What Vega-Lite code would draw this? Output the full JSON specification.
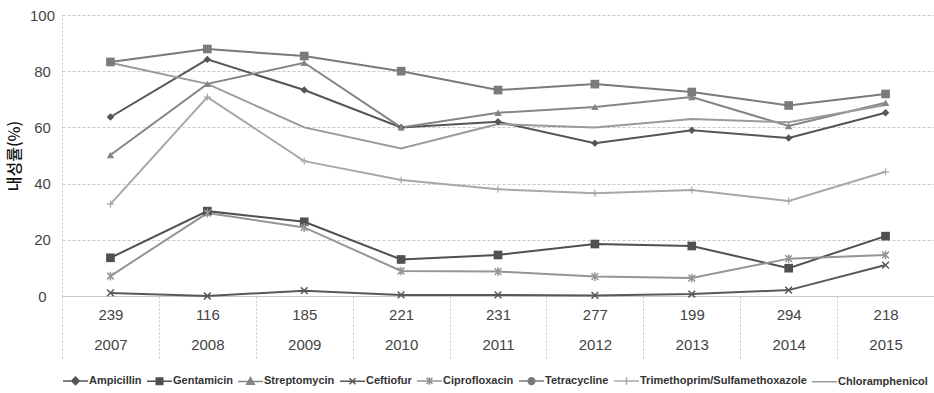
{
  "$schema": "https://vega.github.io/schema/vega-lite/v6.json",
  "autosize": {"type": "none"},
  "width": 872,
  "height": 281,
  "padding": {"left": 62, "top": 15, "right": 0, "bottom": 97},
  "background": "white",
  "config": {
    "view": {"stroke": null},
    "axis": {"labelFont": "Liberation Sans", "labelColor": "#444", "titleFont": "Noto Sans CJK KR"}
  },
  "data": {
    "values": [
      {"year": "2007", "drug": "Ampicillin", "value": 63.7},
      {"year": "2008", "drug": "Ampicillin", "value": 84.2},
      {"year": "2009", "drug": "Ampicillin", "value": 73.3},
      {"year": "2010", "drug": "Ampicillin", "value": 60.0},
      {"year": "2011", "drug": "Ampicillin", "value": 62.0},
      {"year": "2012", "drug": "Ampicillin", "value": 54.4},
      {"year": "2013", "drug": "Ampicillin", "value": 59.0},
      {"year": "2014", "drug": "Ampicillin", "value": 56.2},
      {"year": "2015", "drug": "Ampicillin", "value": 65.2},
      {"year": "2007", "drug": "Gentamicin", "value": 13.6},
      {"year": "2008", "drug": "Gentamicin", "value": 30.2},
      {"year": "2009", "drug": "Gentamicin", "value": 26.4},
      {"year": "2010", "drug": "Gentamicin", "value": 13.0},
      {"year": "2011", "drug": "Gentamicin", "value": 14.6},
      {"year": "2012", "drug": "Gentamicin", "value": 18.5},
      {"year": "2013", "drug": "Gentamicin", "value": 17.8},
      {"year": "2014", "drug": "Gentamicin", "value": 9.9},
      {"year": "2015", "drug": "Gentamicin", "value": 21.3},
      {"year": "2007", "drug": "Streptomycin", "value": 50.2},
      {"year": "2008", "drug": "Streptomycin", "value": 75.5},
      {"year": "2009", "drug": "Streptomycin", "value": 83.0},
      {"year": "2010", "drug": "Streptomycin", "value": 60.0},
      {"year": "2011", "drug": "Streptomycin", "value": 65.2},
      {"year": "2012", "drug": "Streptomycin", "value": 67.3},
      {"year": "2013", "drug": "Streptomycin", "value": 70.8},
      {"year": "2014", "drug": "Streptomycin", "value": 60.5},
      {"year": "2015", "drug": "Streptomycin", "value": 68.8},
      {"year": "2007", "drug": "Ceftiofur", "value": 1.1},
      {"year": "2008", "drug": "Ceftiofur", "value": 0.0},
      {"year": "2009", "drug": "Ceftiofur", "value": 1.9},
      {"year": "2010", "drug": "Ceftiofur", "value": 0.4},
      {"year": "2011", "drug": "Ceftiofur", "value": 0.4},
      {"year": "2012", "drug": "Ceftiofur", "value": 0.2},
      {"year": "2013", "drug": "Ceftiofur", "value": 0.7},
      {"year": "2014", "drug": "Ceftiofur", "value": 2.1},
      {"year": "2015", "drug": "Ceftiofur", "value": 11.0},
      {"year": "2007", "drug": "Ciprofloxacin", "value": 7.1},
      {"year": "2008", "drug": "Ciprofloxacin", "value": 29.5},
      {"year": "2009", "drug": "Ciprofloxacin", "value": 24.4},
      {"year": "2010", "drug": "Ciprofloxacin", "value": 8.9},
      {"year": "2011", "drug": "Ciprofloxacin", "value": 8.7},
      {"year": "2012", "drug": "Ciprofloxacin", "value": 6.9},
      {"year": "2013", "drug": "Ciprofloxacin", "value": 6.4},
      {"year": "2014", "drug": "Ciprofloxacin", "value": 13.3},
      {"year": "2015", "drug": "Ciprofloxacin", "value": 14.6},
      {"year": "2007", "drug": "Tetracycline", "value": 83.3},
      {"year": "2008", "drug": "Tetracycline", "value": 87.9},
      {"year": "2009", "drug": "Tetracycline", "value": 85.4},
      {"year": "2010", "drug": "Tetracycline", "value": 80.0},
      {"year": "2011", "drug": "Tetracycline", "value": 73.3},
      {"year": "2012", "drug": "Tetracycline", "value": 75.4},
      {"year": "2013", "drug": "Tetracycline", "value": 72.6},
      {"year": "2014", "drug": "Tetracycline", "value": 67.8},
      {"year": "2015", "drug": "Tetracycline", "value": 71.9},
      {"year": "2007", "drug": "Trimethoprim/Sulfamethoxazole", "value": 32.7},
      {"year": "2008", "drug": "Trimethoprim/Sulfamethoxazole", "value": 70.8},
      {"year": "2009", "drug": "Trimethoprim/Sulfamethoxazole", "value": 48.0},
      {"year": "2010", "drug": "Trimethoprim/Sulfamethoxazole", "value": 41.3},
      {"year": "2011", "drug": "Trimethoprim/Sulfamethoxazole", "value": 38.0},
      {"year": "2012", "drug": "Trimethoprim/Sulfamethoxazole", "value": 36.6},
      {"year": "2013", "drug": "Trimethoprim/Sulfamethoxazole", "value": 37.7},
      {"year": "2014", "drug": "Trimethoprim/Sulfamethoxazole", "value": 33.8},
      {"year": "2015", "drug": "Trimethoprim/Sulfamethoxazole", "value": 44.2},
      {"year": "2007", "drug": "Chloramphenicol", "value": 83.0},
      {"year": "2008", "drug": "Chloramphenicol", "value": 75.5},
      {"year": "2009", "drug": "Chloramphenicol", "value": 60.0},
      {"year": "2010", "drug": "Chloramphenicol", "value": 52.5},
      {"year": "2011", "drug": "Chloramphenicol", "value": 61.2},
      {"year": "2012", "drug": "Chloramphenicol", "value": 60.0},
      {"year": "2013", "drug": "Chloramphenicol", "value": 63.0},
      {"year": "2014", "drug": "Chloramphenicol", "value": 61.8},
      {"year": "2015", "drug": "Chloramphenicol", "value": 68.0}
    ]
  },
  "encoding": {
    "x": {
      "field": "year", "type": "nominal", "title": null,
      "scale": {"paddingInner": 0, "paddingOuter": 0},
      "axis": {
        "labelAngle": 0, "labelFontSize": 15,
        "labelExpr": "[['239','116','185','221','231','277','199','294','218'][indexof(['2007','2008','2009','2010','2011','2012','2013','2014','2015'], datum.label)], datum.label]",
        "labelLineHeight": 30, "labelPadding": -51, "labelBaseline": "top",
        "tickBand": "extent", "tickSize": 62, "tickColor": "#c8c8c8", "tickDash": [2, 2], "tickWidth": 1,
        "domainColor": "#c8c8c8", "domainWidth": 1,
        "grid": false
      }
    },
    "y": {
      "field": "value", "type": "quantitative",
      "scale": {"domain": [0, 100]},
      "title": "내성률(%)",
      "axis": {
        "values": [0, 20, 40, 60, 80, 100],
        "labelFontSize": 15, "labelAlign": "center", "labelPadding": 20,
        "ticks": false, "tickSize": 0,
        "domainColor": "#c8c8c8", "domainDash": [2, 2],
        "grid": true, "gridColor": "#c8c8c8", "gridDash": [3, 2],
        "titleFontSize": 16, "titleFontWeight": 500, "titleColor": "#111", "titlePadding": 7
      }
    },
    "color": {
      "field": "drug", "type": "nominal",
      "scale": {
        "domain": ["Ampicillin", "Gentamicin", "Streptomycin", "Ceftiofur", "Ciprofloxacin", "Tetracycline", "Trimethoprim/Sulfamethoxazole", "Chloramphenicol"],
        "range": ["#555555", "#505050", "#858585", "#585858", "#959595", "#7a7a7a", "#a8a8a8", "#9a9a9a"]
      },
      "legend": null
    }
  },
  "layer": [
    {
      "mark": {"type": "line", "strokeWidth": 2}
    },
    {
      "mark": {"type": "point", "filled": true, "opacity": 0, "strokeWidth": 1.5},
      "encoding": {
        "color": null,
        "stroke": {
          "field": "drug", "type": "nominal", "sort": null,
          "scale": {"range": ["#555555", "#505050", "#858585", "#585858", "#959595", "#7a7a7a", "#a8a8a8", "#9a9a9a"]},
          "legend": {"title": null}
        },
        "fill": {
          "field": "drug", "type": "nominal", "sort": null,
          "scale": {"range": ["#555555", "#505050", "#858585", "#585858", "#959595", "#7a7a7a", "#a8a8a8", "#9a9a9a"]},
          "legend": {"title": null}
        },
        "shape": {
          "field": "drug", "type": "nominal", "sort": null,
          "scale": {
            "range": ["M-1,0L1,0M0,-0.3L0.3,0L0,0.3L-0.3,0Z", "M-1,0L1,0M-0.26,-0.26L0.26,-0.26L0.26,0.26L-0.26,0.26Z", "M-1,0L1,0M0,-0.3L0.3,0.22L-0.3,0.22Z", "M-1,0L1,0M-0.24,-0.24L0.24,0.24M-0.24,0.24L0.24,-0.24", "M-1,0L1,0M-0.24,-0.24L0.24,0.24M-0.24,0.24L0.24,-0.24M0,-0.3L0,0.3", "M-1,0L1,0M0.27,0A0.27,0.27 0 1,1 -0.27,0A0.27,0.27 0 1,1 0.27,0Z", "M-1,0L1,0M0,-0.3L0,0.3", "M-1,0L1,0"]
          },
          "legend": {
            "title": null, "orient": "bottom", "direction": "horizontal", "columns": 8,
            "offset": 8, "symbolSize": 625, "symbolStrokeWidth": 1.5, "symbolOpacity": 1,
            "labelFont": "Liberation Sans", "labelFontSize": 11, "labelFontWeight": "bold", "labelColor": "#333",
            "labelOffset": 0, "columnPadding": 2, "labelLimit": 300
          }
        }
      }
    },
    {
      "transform": [{"filter": "datum.drug == 'Ampicillin'"}],
      "mark": {"type": "point", "shape": "diamond", "filled": true, "opacity": 1, "size": 55}
    },
    {
      "transform": [{"filter": "datum.drug == 'Gentamicin' || datum.drug == 'Tetracycline'"}],
      "mark": {"type": "point", "shape": "square", "filled": true, "opacity": 1, "size": 75}
    },
    {
      "transform": [{"filter": "datum.drug == 'Streptomycin'"}],
      "mark": {"type": "point", "shape": "triangle-up", "filled": true, "opacity": 1, "size": 55}
    },
    {
      "transform": [{"filter": "datum.drug == 'Ceftiofur'"}],
      "mark": {"type": "point", "shape": "M-1,-1L1,1M-1,1L1,-1", "filled": false, "opacity": 1, "size": 45, "strokeWidth": 1.5}
    },
    {
      "transform": [{"filter": "datum.drug == 'Ciprofloxacin'"}],
      "mark": {"type": "point", "shape": "M-1,-1L1,1M-1,1L1,-1M0,-1.3L0,1.3", "filled": false, "opacity": 1, "size": 45, "strokeWidth": 1.5}
    },
    {
      "transform": [{"filter": "datum.drug == 'Trimethoprim/Sulfamethoxazole'"}],
      "mark": {"type": "point", "shape": "M-1,0L1,0M0,-1L0,1", "filled": false, "opacity": 1, "size": 50, "strokeWidth": 1.2}
    }
  ]
}
